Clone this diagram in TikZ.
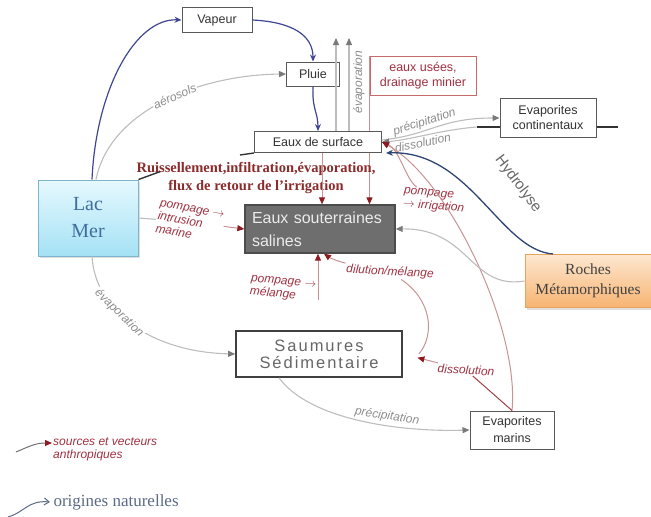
\documentclass[tikz,border=0pt]{standalone}
\usepackage{fontspec}
\setmainfont{Liberation Serif}
\setsansfont{Liberation Sans}
\usepackage{xcolor}
\usepackage{tikz}
\usetikzlibrary{positioning,arrows.meta,shadows,backgrounds}

\definecolor{natblue}{HTML}{3D4594}
\definecolor{hydblue}{HTML}{2D4673}
\definecolor{grayline}{HTML}{BDBDBD}
\definecolor{graytip}{HTML}{7A7A7A}
\definecolor{graytxt}{HTML}{8C8C8C}
\definecolor{redline}{HTML}{C99393}
\definecolor{redtip}{HTML}{8E1B22}
\definecolor{redtxt}{HTML}{A03040}
\definecolor{redbox}{HTML}{C46A6A}
\definecolor{ruistxt}{HTML}{8B2B2B}
\definecolor{lactop}{HTML}{E6F9FE}
\definecolor{lacbot}{HTML}{A4E1F5}
\definecolor{lacline}{HTML}{7FB4CF}
\definecolor{lactxt}{HTML}{3F6D9E}
\definecolor{rochtop}{HTML}{FDE7D0}
\definecolor{rochbot}{HTML}{F7B472}
\definecolor{rochline}{HTML}{E9A25E}
\definecolor{soutfill}{HTML}{6E6E6E}
\definecolor{legblue}{HTML}{5B6B86}

\begin{document}
\begin{tikzpicture}[x=1pt,y=-1pt,
    box/.style={draw=black!65,line width=1pt,fill=white,inner sep=1pt,align=center,
        font=\sffamily\fontsize{12.5}{15}\selectfont,text=black!80},
    nat/.style={natblue,line width=1.2pt,-{Stealth[length=7pt,width=6pt]}},
    hyd/.style={hydblue,line width=1.3pt,-{Stealth[length=7pt,width=6pt]}},
    gfl/.style={grayline,line width=1.1pt,-{Triangle[length=7pt,width=6pt,color=graytip]}},
    gline/.style={grayline,line width=1.1pt},
    anthro/.style={redline,line width=1pt,-{Triangle[length=7pt,width=6pt,color=redtip]}},
    rline/.style={redline,line width=1pt},
    glab/.style={font=\sffamily\itshape\fontsize{12}{13}\selectfont,text=graytxt,inner sep=1pt},
    rlab/.style={font=\sffamily\itshape\fontsize{12}{13}\selectfont,text=redtxt,align=left,inner sep=1pt},
    callout/.style={black!80,line width=1.4pt}]
\useasboundingbox (0,0) rectangle (651,517);

% boxes
\node[box,minimum width=70pt,minimum height=25pt] (vapeur) at (217,20) {Vapeur};
\node[box,minimum width=53pt,minimum height=24pt] (pluie) at (313,74) {Pluie};
\node[box,draw=redbox,text=redtxt,minimum width=106pt,minimum height=39pt] (usees) at (423,76) {eaux usées,\\drainage minier};
\node[box,minimum width=96pt,minimum height=39pt] (evapcont) at (548,118) {Evaporites\\continentaux};
\node[box,minimum width=127pt,minimum height=21pt] (surface) at (318,142) {Eaux de surface};
\node[box,minimum width=84pt,minimum height=38pt,font=\sffamily\fontsize{12.5}{17}\selectfont] (evapmar) at (512,430) {Evaporites\\marins};
\node[draw=lacline,line width=1pt,top color=lactop,bottom color=lacbot,minimum width=100pt,minimum height=76pt,
    drop shadow={opacity=0.25,shadow xshift=2pt,shadow yshift=-2pt},align=center,text=lactxt,
    font=\fontsize{20}{27}\selectfont] (lac) at (88,218) {Lac\\Mer};
\node[draw=black!70,line width=1.3pt,fill=soutfill,text=white!85!gray,text width=136pt,inner xsep=7pt,
    minimum height=48pt,align=left,font=\sffamily\fontsize{16}{23}\selectfont] (sout) at (320,229) {Eaux souterraines\\salines};
\node[draw=rochline,line width=1pt,top color=rochtop,bottom color=rochbot,minimum width=126pt,minimum height=53pt,
    drop shadow={opacity=0.25,shadow xshift=2pt,shadow yshift=-2pt},align=center,text=black!75,
    font=\fontsize{15.5}{20}\selectfont] (roches) at (588,281) {Roches\\Métamorphiques};
\node[draw=black!75,line width=1.7pt,fill=white,minimum width=166pt,minimum height=46pt,align=center,text=black!60,
    font=\sffamily\fontsize{16.5}{17}\selectfont\addfontfeature{LetterSpace=12}] (saumures) at (319,354) {Saumures\\Sédimentaire};

% lines kept behind the boxes
\begin{scope}[on background layer]
    \draw[anthro] (usees.north west) -- (usees.north west |- sout.north);
    \draw[black!80,line width=1.2pt] ([xshift=-23pt,yshift=-9pt]evapcont.west) coordinate (stubL) -- ([xshift=21pt,yshift=-9pt]evapcont.east);
\end{scope}

% water cycle
\draw[nat] ([xshift=4pt]lac.north) .. controls (96,90) and (135,18) .. (vapeur.west);
\draw[nat] (vapeur.east) .. controls (292,22) and (313,35) .. (pluie.north);
\draw[nat] (pluie.south) .. controls (312,110) and (318,112) .. (surface.north);
\draw[gfl] ([xshift=8pt]lac.north) .. controls (110,110) and (200,75) .. (pluie.west)
    node[glab,pos=0.55,sloped,fill=white] {aérosols};
\coordinate (ev1) at (336,38);
\coordinate (ev2) at (349,38);
\draw[gfl] (surface.north -| ev1) -- (ev1);
\draw[gfl] (surface.north -| ev2) -- (ev2);
\node[glab,rotate=90] (evlab) at (359,82) {évaporation};

% infiltration
\node[align=center,text=ruistxt,font=\bfseries\fontsize{14.5}{18}\selectfont] (ruis) at (256,178)
    {Ruissellement,infiltration,évaporation,\\flux de retour de l'irrigation};
\draw[callout] (lac.north east) -- ++(22,-8);
\draw[callout] (surface.south west) -- ++(-14,2);
\draw[anthro] ([xshift=4pt]surface.south) -- ([xshift=4pt]surface.south |- sout.north);

% exchanges with the sea
\node[rlab,rotate=-10] (intr) at (190,222) {pompage $\rightarrow$\\intrusion\\marine};
\draw[gline] (lac.east) -- (intr);
\draw[anthro] (intr) -- (sout.west);

% continental evaporites
\draw[gfl] ([yshift=2pt]surface.east) .. controls (430,135) and (440,118) .. (evapcont.west)
    node[glab,pos=0.4,sloped,above=1pt] {précipitation};
\draw[gfl] (stubL) .. controls (440,130) and (410,140) .. (surface.east)
    node[glab,pos=0.55,sloped,below=1pt] {dissolution};

% pumping and mixing
\node[rlab,rotate=-5] (pirr) at (434,201) {pompage\\$\rightarrow$ irrigation};
\draw[anthro] (pirr) .. controls (405,178) and (400,150) .. (surface.east);
\draw[anthro] (evapmar.north) .. controls (520,330) and (450,180) .. (surface.east);
\draw[hyd] ([xshift=-35pt]roches.north) .. controls (500,250) and (470,150) .. ([xshift=4pt]surface.south east);
\node[rotate=-53,text=black!60,font=\sffamily\fontsize{15}{16}\selectfont] (hydlab) at (518,184) {Hydrolyse};
\draw[gfl] (roches.west) .. controls (470,290) and (470,228) .. (sout.east);

\node[rlab,rotate=-5] (pmel) at (283,289) {pompage $\rightarrow$\\mélange};
\coordinate (melsrc) at (318,300);
\draw[anthro] (melsrc) -- (melsrc |- sout.south);
\node[rlab,rotate=-3] (dil) at (390,272) {dilution/mélange};
\draw[anthro] (dil) .. controls (340,262) and (330,258) .. ([xshift=4pt]sout.south);
\draw[rline] (dil) .. controls (432,300) and (435,335) .. ([xshift=16pt]saumures.east);
\node[rlab,rotate=-3] (diss) at (466,370) {dissolution};
\draw[anthro,shorten >=15pt] (diss) -- (saumures.east);
\draw[redtip!70!redline,line width=1pt] (diss) -- (evapmar.north);

% brines and marine evaporites
\draw[gfl] ([xshift=4pt]lac.south) .. controls (95,310) and (150,352) .. (saumures.west)
    node[glab,pos=0.4,sloped,fill=white] {évaporation};
\draw[gfl] ([xshift=-40pt]saumures.south) .. controls (310,420) and (400,432) .. (evapmar.west)
    node[glab,pos=0.62,sloped,above=2pt] {précipitation};

% legend
\node[rlab,anchor=west] (legA) at (52,449) {sources et vecteurs\\anthropiques};
\coordinate (legAs) at (16,452);
\draw[anthro,black!55] (legAs) .. controls (30,446) and (36,443) .. ([yshift=6pt]legA.west);
\node[anchor=west,text=legblue,font=\fontsize{17}{18}\selectfont] (legB) at (50,502) {origines naturelles};
\coordinate (legBs) at (8,517);
\draw[legblue,line width=1pt,-{Straight Barb[length=5pt,width=7pt]}] (legBs) .. controls (25,512) and (28,500) .. (legB.west);
\end{tikzpicture}
\end{document}
